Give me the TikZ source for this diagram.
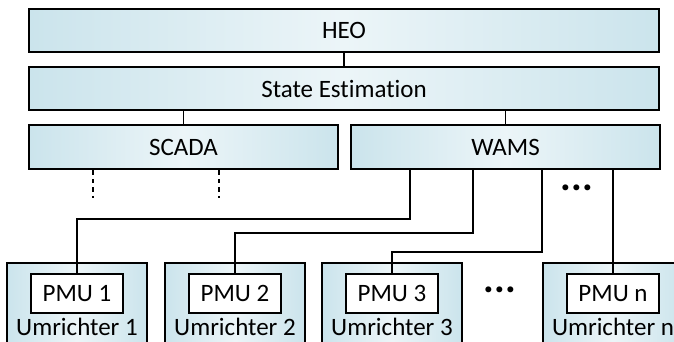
\documentclass[tikz,border=0pt]{standalone}
\usepackage{fontspec}
\setmainfont{Carlito}[Ligatures=NoCommon]
\usetikzlibrary{positioning}
\definecolor{paleblue}{RGB}{203,228,236}
\definecolor{lightblue}{RGB}{236,245,248}

\begin{document}
\begin{tikzpicture}[x=1pt,y=-1pt]
		\tikzset{layer/.style={draw,line width=2.6pt,left color=paleblue,right color=paleblue,middle color=lightblue,
				minimum width=630pt,minimum height=43pt,inner sep=0pt,font=\fontsize{25}{28}\selectfont}}
		\tikzset{unit/.style={draw,line width=2.4pt,left color=paleblue,right color=paleblue,middle color=lightblue,
				minimum width=140pt,minimum height=82pt,inner sep=0pt}}
		\tikzset{pmu/.style={draw,line width=2.2pt,fill=white,minimum width=92pt,minimum height=39pt,
				inner sep=0pt,font=\fontsize{25}{28}\selectfont}}
		\tikzset{tag/.style={inner sep=0pt,text depth=0pt,font=\fontsize{25}{28}\selectfont}}
		\tikzset{dots/.style={inner sep=0pt,anchor=base,font=\fontsize{40}{40}\selectfont\bfseries}}
		\tikzset{wire/.style={line width=2pt},link/.style={line width=1.1pt},
			stub/.style={line width=2.5pt,dash pattern=on 4.5pt off 4pt}}
		\clip (0,0) rectangle (674,341);
		% control layers
		\node[layer] (heo) at (344,30.5) {HEO};
		\node[layer] (se) at (344,88.5) {State Estimation};
		\node[layer,minimum width=309pt,minimum height=44pt] (scada) at (183.5,147) {SCADA};
		\node[layer,minimum width=309pt,minimum height=44pt] (wams) at (505.5,147) {WAMS};
		\draw[link] (heo) -- (se);
		\draw[link] (scada.north |- se.south) -- (scada.north);
		\draw[link] (wams.north |- se.south) -- (wams.north);
		\draw[stub] ([xshift=-90.5pt]scada.south) -- ++(0,28);
		\draw[stub] ([xshift=35.5pt]scada.south) -- ++(0,28);
		% converters with their PMUs
		\foreach \x/\n in {77/1,235/2,392/3,613/n} {
			\node[unit] (u\n) at (\x,304) {};
			\node[pmu] (pmu\n) at (\x,293.5) {PMU \n};
			\node[tag,below=4pt of pmu\n] (t\n) {Umrichter \n};
		}
		\draw[wire] ([xshift=-95.5pt]wams.south) -- ++(0,49) -| (pmu1.north);
		\draw[wire] ([xshift=-32.5pt]wams.south) -- ++(0,63) -| (pmu2.north);
		\draw[wire] ([xshift=36.5pt]wams.south) -- ++(0,82) -| (pmu3.north);
		\draw[wire] (pmun.north |- wams.south) -- (pmun.north);
		\node[dots] (gap1) at (577,190) {...};
		\node[dots] (gap2) at (500,292) {...};
	\end{tikzpicture}
\end{document}
